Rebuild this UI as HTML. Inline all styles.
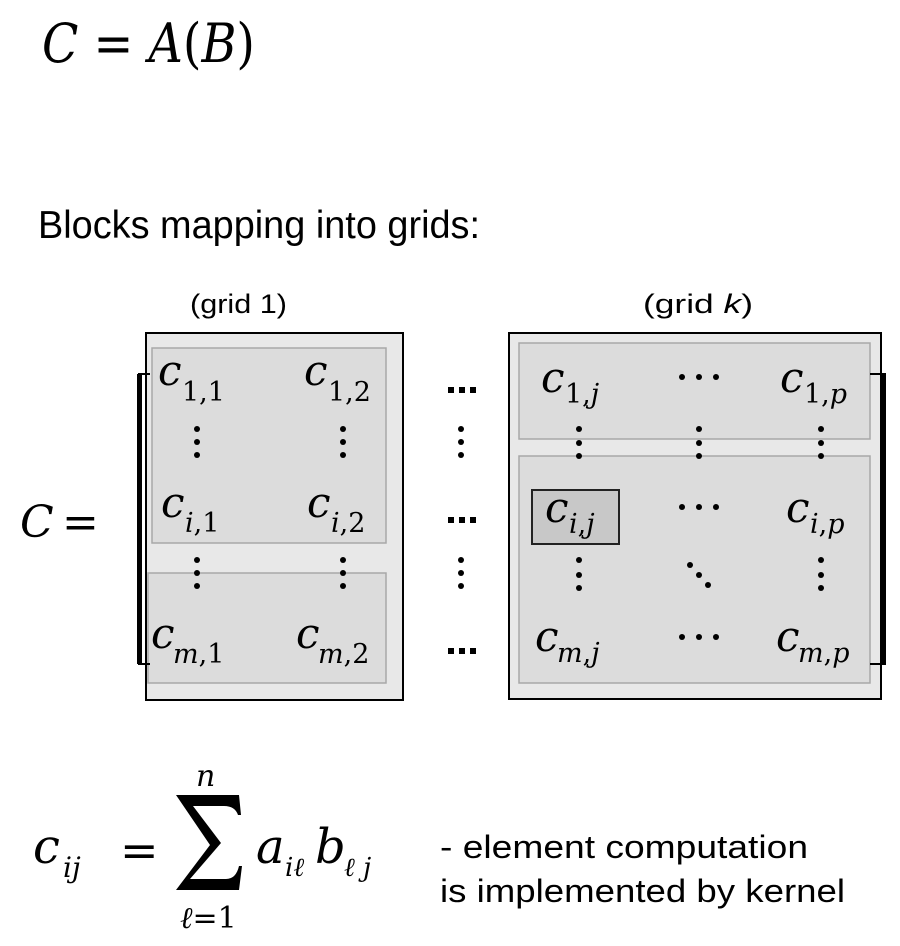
<!DOCTYPE html>
<html><head><meta charset="utf-8"><style>
html,body{margin:0;padding:0;background:#fff;}
svg{display:block;}
.m{font-family:"DejaVu Serif","Liberation Serif",serif;font-style:italic;fill:#000;}
.r{font-family:"DejaVu Serif","Liberation Serif",serif;font-style:normal;fill:#000;}
.s{font-family:"Liberation Sans",sans-serif;fill:#000;}
</style></head><body>
<svg width="900" height="946" viewBox="0 0 900 946" xmlns="http://www.w3.org/2000/svg">
<text x="42" y="62" class="m" font-size="54" textLength="213" lengthAdjust="spacingAndGlyphs">C <tspan class="r">=</tspan> A<tspan class="r">(</tspan>B<tspan class="r">)</tspan></text>
<text x="38" y="238" class="s" font-size="39" textLength="442" lengthAdjust="spacingAndGlyphs">Blocks mapping into grids:</text>
<text x="190" y="313" class="s" font-size="27" textLength="97" lengthAdjust="spacingAndGlyphs">(grid 1)</text>
<text x="643" y="313" class="s" font-size="27" textLength="110" lengthAdjust="spacingAndGlyphs">(grid <tspan font-style="italic">k</tspan>)</text>

<rect x="146" y="333" width="257" height="367" fill="#e8e8e8" stroke="#000" stroke-width="2"/>
<rect x="152" y="348" width="234" height="195" fill="#dcdcdc" stroke="#a8a8a8" stroke-width="1.5"/>
<rect x="148" y="573" width="238" height="110" fill="#dcdcdc" stroke="#a8a8a8" stroke-width="1.5"/>
<rect x="509" y="333" width="372" height="366" fill="#e8e8e8" stroke="#000" stroke-width="2"/>
<rect x="519" y="343" width="351" height="96" fill="#dcdcdc" stroke="#a8a8a8" stroke-width="1.5"/>
<rect x="519" y="456" width="351" height="227" fill="#dcdcdc" stroke="#a8a8a8" stroke-width="1.5"/>
<rect x="532" y="490" width="87" height="54" fill="#c8c8c8" stroke="#222" stroke-width="2"/>

<path d="M150 374 H139 V664 H150" fill="none" stroke="#000" stroke-width="2"/>
<rect x="137" y="374" width="5" height="290" fill="#000"/>
<path d="M870 374 H885 V664 H870" fill="none" stroke="#000" stroke-width="2"/>
<rect x="881" y="374" width="5" height="290" fill="#000"/>

<text x="20" y="537" class="m" font-size="44">C</text>
<text x="62" y="537" class="r" font-size="44">=</text>

<g class="m" font-size="42">
<text x="158" y="385">c</text>
<text x="304" y="385">c</text>
<text x="161" y="517">c</text>
<text x="307" y="517">c</text>
<text x="151" y="648">c</text>
<text x="296" y="648">c</text>
<text x="541" y="392">c</text>
<text x="780" y="392">c</text>
<text x="545" y="522">c</text>
<text x="786" y="522">c</text>
<text x="535" y="651">c</text>
<text x="776" y="651">c</text>
</g>
<g font-size="27">
<text x="182" y="401" class="r">1,1</text>
<text x="328" y="401" class="r">1,2</text>
<text x="185" y="532" class="m">i<tspan class="r">,1</tspan></text>
<text x="331" y="532" class="m">i<tspan class="r">,2</tspan></text>
<text x="173" y="663" class="m">m<tspan class="r">,1</tspan></text>
<text x="318" y="663" class="m">m<tspan class="r">,2</tspan></text>
<text x="565" y="403" class="r">1,<tspan class="m">j</tspan></text>
<text x="804" y="403" class="r">1,<tspan class="m">p</tspan></text>
<text x="569" y="533" class="m">i<tspan class="r">,</tspan>j</text>
<text x="810" y="533" class="m">i<tspan class="r">,</tspan>p</text>
<text x="557" y="662" class="m">m<tspan class="r">,</tspan>j</text>
<text x="798" y="662" class="m">m<tspan class="r">,</tspan>p</text>
</g>

<g fill="#000">
<circle cx="197" cy="429" r="3"/><circle cx="197" cy="442" r="3"/><circle cx="197" cy="455" r="3"/>
<circle cx="343" cy="429" r="3"/><circle cx="343" cy="442" r="3"/><circle cx="343" cy="455" r="3"/>
<circle cx="197" cy="560" r="3"/><circle cx="197" cy="573" r="3"/><circle cx="197" cy="586" r="3"/>
<circle cx="343" cy="560" r="3"/><circle cx="343" cy="573" r="3"/><circle cx="343" cy="586" r="3"/>
<circle cx="461" cy="429" r="3"/><circle cx="461" cy="442" r="3"/><circle cx="461" cy="455" r="3"/>
<circle cx="461" cy="560" r="3"/><circle cx="461" cy="573" r="3"/><circle cx="461" cy="586" r="3"/>
<rect x="448" y="387" width="6" height="6"/><rect x="459" y="387" width="6" height="6"/><rect x="470" y="387" width="6" height="6"/>
<rect x="448" y="517" width="6" height="6"/><rect x="459" y="517" width="6" height="6"/><rect x="470" y="517" width="6" height="6"/>
<rect x="448" y="648" width="6" height="6"/><rect x="459" y="648" width="6" height="6"/><rect x="470" y="648" width="6" height="6"/>
<circle cx="579" cy="429" r="3"/><circle cx="579" cy="443" r="3"/><circle cx="579" cy="456" r="3"/>
<circle cx="699" cy="429" r="3"/><circle cx="699" cy="443" r="3"/><circle cx="699" cy="456" r="3"/>
<circle cx="821" cy="429" r="3"/><circle cx="821" cy="443" r="3"/><circle cx="821" cy="456" r="3"/>
<circle cx="579" cy="560" r="3"/><circle cx="579" cy="575" r="3"/><circle cx="579" cy="588" r="3"/>
<circle cx="821" cy="560" r="3"/><circle cx="821" cy="575" r="3"/><circle cx="821" cy="588" r="3"/>
<circle cx="690" cy="565" r="3"/><circle cx="699" cy="575" r="3"/><circle cx="708" cy="585" r="3"/>
<circle cx="682" cy="377" r="3"/><circle cx="699" cy="377" r="3"/><circle cx="716" cy="377" r="3"/>
<circle cx="682" cy="507" r="3"/><circle cx="699" cy="507" r="3"/><circle cx="716" cy="507" r="3"/>
<circle cx="682" cy="637" r="3"/><circle cx="699" cy="637" r="3"/><circle cx="716" cy="637" r="3"/>
</g>

<text x="33" y="863" class="m" font-size="48">c</text>
<text x="63" y="877" class="m" font-size="28">ij</text>
<text x="120" y="866" class="r" font-size="46">=</text>
<text x="196" y="786" class="m" font-size="30">n</text>
<path d="M176 795 H239 L241 815 H238 Q235 806 224 806 H193 L221 843 L190 879 H226 Q236 879 239 866 H242 L239 890 H176 L210 845 Z" fill="#000"/>
<text x="180" y="928" class="m" font-size="30">ℓ<tspan class="r">=1</tspan></text>
<text x="256" y="863" class="m" font-size="48">a</text>
<text x="285" y="876" class="m" font-size="26">iℓ</text>
<text x="315" y="863" class="m" font-size="48">b</text>
<text x="344" y="876" class="m" font-size="26">ℓ j</text>
<text x="440" y="858" class="s" font-size="32" textLength="368" lengthAdjust="spacingAndGlyphs">- element computation</text>
<text x="440" y="902" class="s" font-size="32" textLength="405" lengthAdjust="spacingAndGlyphs">is implemented by kernel</text>
</svg>
</body></html>
